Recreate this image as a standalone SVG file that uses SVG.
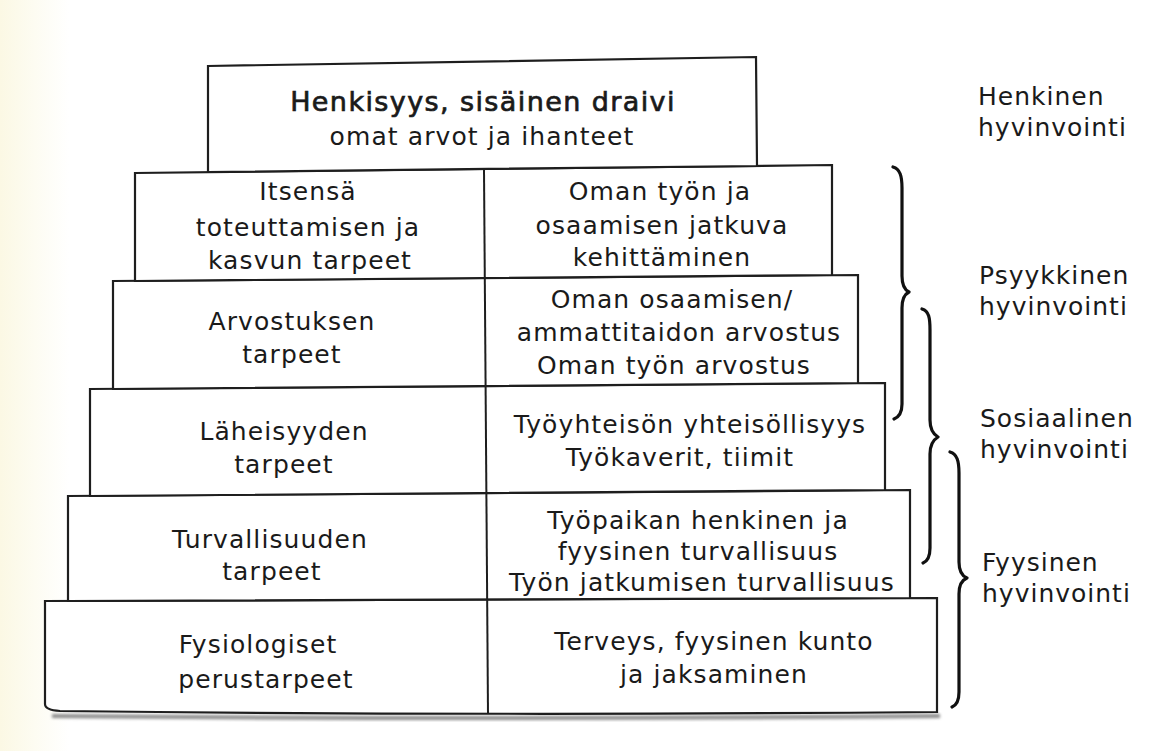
<svg xmlns="http://www.w3.org/2000/svg" width="1152" height="751" viewBox="0 0 1152 751">
  <defs>
    <linearGradient id="paper" x1="0" y1="0" x2="1" y2="0">
      <stop offset="0" stop-color="#fbf8e4"/>
      <stop offset="0.03" stop-color="#fdfcf2"/>
      <stop offset="0.06" stop-color="#ffffff"/>
      <stop offset="1" stop-color="#ffffff"/>
    </linearGradient>
    <filter id="blur" x="-5%" y="-200%" width="110%" height="500%">
      <feGaussianBlur stdDeviation="1.6"/>
    </filter>
  </defs>
  <style>
    .box { fill: #ffffff; stroke: #1e1e1e; stroke-width: 2.2; stroke-linejoin: miter; }
    .div { fill: none; stroke: #1e1e1e; stroke-width: 2; }
    .brace { fill: none; stroke: #111111; stroke-width: 3.2; stroke-linecap: round; stroke-linejoin: round; }
    text { font-family: "DejaVu Sans", "Open Sans", sans-serif; font-size: 25px; fill: #1a1a1a; letter-spacing: 1.1px; }
    .c { text-anchor: middle; }
    .lbl { font-size: 25px; letter-spacing: 1px; }
    .head { font-size: 27px; stroke: #1a1a1a; stroke-width: 0.7; letter-spacing: 1.4px; }
  </style>

  <rect x="0" y="0" width="1152" height="751" fill="url(#paper)"/>

  <!-- shadow under base -->
  <path d="M52,716 Q490,720 940,716" fill="none" stroke="#8a8a8a" stroke-width="4" filter="url(#blur)"/>

  <g id="level6">
    <path class="box" d="M45,601 L937,598 L937,712 Q490,716 60,711 Q45,710 45,704 Z"/>
    <text class="c" x="258" y="653">Fysiologiset</text>
    <text class="c" x="266" y="688">perustarpeet</text>
    <text class="c" x="714" y="650">Terveys, fyysinen kunto</text>
    <text class="c" x="714" y="683">ja jaksaminen</text>
  </g>

  <g id="level5">
    <polygon class="box" points="68,496 910,490 910,598 68,601"/>
    <text class="c" x="270" y="548">Turvallisuuden</text>
    <text class="c" x="272" y="580">tarpeet</text>
    <text class="c" x="698" y="529">Työpaikan henkinen ja</text>
    <text class="c" x="698" y="560">fyysinen turvallisuus</text>
    <text class="c" x="702" y="591">Työn jatkumisen turvallisuus</text>
  </g>

  <g id="level4">
    <polygon class="box" points="90,389 885,383 885,490 90,496"/>
    <text class="c" x="284" y="440">Läheisyyden</text>
    <text class="c" x="284" y="473">tarpeet</text>
    <text class="c" x="690" y="433">Työyhteisön yhteisöllisyys</text>
    <text class="c" x="680" y="466">Työkaverit, tiimit</text>
  </g>

  <g id="level3">
    <polygon class="box" points="113,281 858,275 858,383 113,389"/>
    <text class="c" x="292" y="330">Arvostuksen</text>
    <text class="c" x="292" y="363">tarpeet</text>
    <text class="c" x="672" y="308">Oman osaamisen/</text>
    <text class="c" x="679" y="341">ammattitaidon arvostus</text>
    <text class="c" x="674" y="374">Oman työn arvostus</text>
  </g>

  <g id="level2">
    <polygon class="box" points="135,173 832,165 832,275 135,281"/>
    <text class="c" x="308" y="200">Itsensä</text>
    <text class="c" x="308" y="236">toteuttamisen ja</text>
    <text class="c" x="310" y="269">kasvun tarpeet</text>
    <text class="c" x="660" y="200">Oman työn ja</text>
    <text class="c" x="662" y="234">osaamisen jatkuva</text>
    <text class="c" x="662" y="266">kehittäminen</text>
  </g>

  <g id="level1">
    <polygon class="box" points="208,66 756,57 757,166 208,172"/>
    <text class="c head" x="483" y="111">Henkisyys, sisäinen draivi</text>
    <text class="c" x="482" y="145">omat arvot ja ihanteet</text>
  </g>

  <g id="connectors">
    <line class="div" x1="484" y1="170" x2="488" y2="713"/>
    <path class="brace" d="M893,167 C900,169 902,176 902,188 L902,276 C902,285 905,290 909,292 C905,294 902,299 902,308 L902,404 C902,412 899,417 894,419"/>
    <path class="brace" d="M922,309 C929,311 930,318 930,330 L930,420 C930,429 933,434 938,437 C933,440 930,445 930,454 L930,548 C930,556 928,561 923,563"/>
    <path class="brace" d="M950,452 C957,454 959,461 959,473 L959,562 C959,571 962,576 967,578 C962,580 959,585 959,594 L959,692 C959,700 957,705 952,707"/>
  </g>

  <g id="labels">
    <text class="lbl" x="978" y="105">Henkinen</text>
    <text class="lbl" x="978" y="136">hyvinvointi</text>
    <text class="lbl" x="979" y="284">Psyykkinen</text>
    <text class="lbl" x="979" y="315">hyvinvointi</text>
    <text class="lbl" x="980" y="427">Sosiaalinen</text>
    <text class="lbl" x="980" y="458">hyvinvointi</text>
    <text class="lbl" x="982" y="571">Fyysinen</text>
    <text class="lbl" x="982" y="602">hyvinvointi</text>
  </g>
</svg>
